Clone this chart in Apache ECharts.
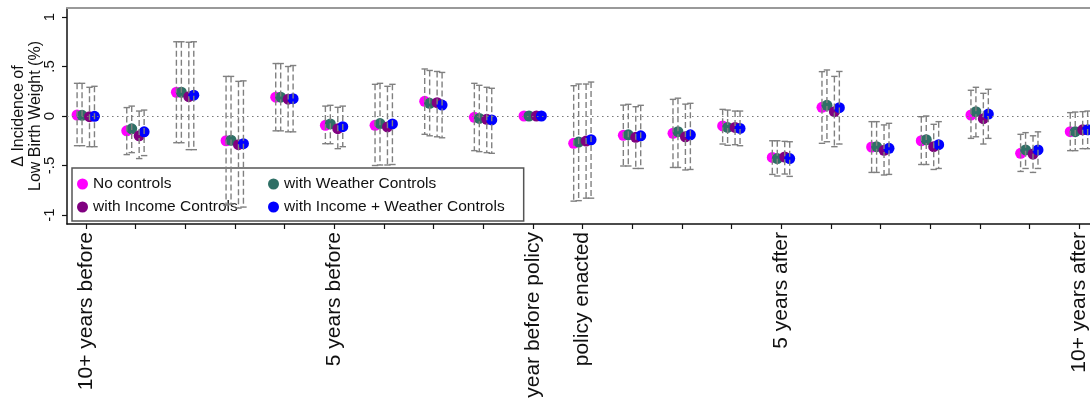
<!DOCTYPE html>
<html>
<head>
  <meta charset="utf-8">
  <title>Low birth weight event study</title>
  <script src="https://cdn.jsdelivr.net/npm/echarts@6/dist/echarts.min.js"></script>
  <style>
    body { margin: 0; background: #fff; }
  </style>
</head>
<body>
<div id="main" style="width: 1090px;height: 409px"></div>
<script type="text/javascript">
  // tick labels (21 event-time bins, only some labelled)
  var tickLabels = ['10+ years before', '', '', '', '', '5 years before', '', '', '', 'year before policy',
    'policy enacted', '', '', '', '5 years after', '', '', '', '', '', '10+ years after'];
  var yTicks = [-1, -0.5, 0, 0.5, 1];
  var modelNames = ['No controls', 'with Weather Controls', 'with Income Controls', 'with Income + Weather Controls'];

  // point estimates
  var estNone = [0.01, -0.15, 0.24, -0.25, 0.19, -0.094, -0.094, 0.148, -0.013, 0, -0.276, -0.195, -0.175, -0.10, -0.418, 0.088, -0.313, -0.25, 0.01, -0.377, -0.158];
  var estWeather = [0.007, -0.13, 0.24, -0.245, 0.19, -0.08, -0.077, 0.128, -0.024, 0, -0.263, -0.19, -0.158, -0.115, -0.43, 0.108, -0.31, -0.24, 0.044, -0.343, -0.158];
  var estIncome = [-0.007, -0.20, 0.195, -0.29, 0.17, -0.128, -0.11, 0.135, -0.034, 0, -0.253, -0.215, -0.21, -0.115, -0.414, 0.044, -0.347, -0.31, -0.027, -0.384, -0.14];
  var estBoth = [-0.003, -0.16, 0.21, -0.28, 0.175, -0.108, -0.08, 0.11, -0.04, 0, -0.24, -0.20, -0.19, -0.125, -0.43, 0.084, -0.327, -0.29, 0.02, -0.343, -0.14];

  // confidence interval bounds (null = reference year, no interval)
  var hiNone = [0.33, 0.085, 0.75, 0.40, 0.53, 0.10, 0.32, 0.475, 0.33, null, 0.306, 0.11, 0.168, 0.067, -0.25, 0.448, -0.057, -0.007, 0.26, -0.185, 0.034];
  var loNone = [-0.30, -0.39, -0.27, -0.90, -0.15, -0.28, -0.50, -0.185, -0.35, null, -0.86, -0.505, -0.52, -0.283, -0.59, -0.276, -0.57, -0.49, -0.226, -0.56, -0.35];
  var hiWeather = [0.33, 0.10, 0.75, 0.40, 0.53, 0.108, 0.33, 0.46, 0.31, null, 0.323, 0.118, 0.18, 0.06, -0.25, 0.465, -0.057, 0.0, 0.29, -0.168, 0.04];
  var loWeather = [-0.30, -0.37, -0.27, -0.89, -0.15, -0.28, -0.495, -0.20, -0.36, null, -0.855, -0.505, -0.52, -0.296, -0.606, -0.26, -0.57, -0.49, -0.21, -0.53, -0.35];
  var hiIncome = [0.29, 0.05, 0.745, 0.35, 0.50, 0.088, 0.30, 0.45, 0.29, null, 0.323, 0.094, 0.12, 0.05, -0.256, 0.40, -0.09, -0.084, 0.229, -0.2, 0.044];
  var loIncome = [-0.31, -0.43, -0.34, -0.93, -0.16, -0.33, -0.495, -0.21, -0.37, null, -0.83, -0.53, -0.545, -0.29, -0.586, -0.31, -0.596, -0.54, -0.283, -0.57, -0.33];
  var hiBoth = [0.30, 0.06, 0.75, 0.355, 0.51, 0.10, 0.32, 0.44, 0.28, null, 0.343, 0.108, 0.128, 0.05, -0.26, 0.45, -0.074, -0.057, 0.27, -0.16, 0.05];
  var loBoth = [-0.31, -0.40, -0.34, -0.92, -0.16, -0.31, -0.49, -0.22, -0.377, null, -0.83, -0.53, -0.54, -0.30, -0.61, -0.283, -0.59, -0.53, -0.226, -0.53, -0.33];

  var ests = [estNone, estWeather, estIncome, estBoth];
  var his = [hiNone, hiWeather, hiIncome, hiBoth];
  var los = [loNone, loWeather, loIncome, loBoth];
  var colors = ['#ff00ff', '#2f7066', '#800080', '#0000ff'];
  var dodge = [-0.18, -0.08, 0.07, 0.17];

  var font = "'Liberation Sans', Arial, Helvetica, sans-serif";
  var myChart = echarts.init(document.getElementById('main'));

  function tickIdx() {
    var a = [];
    for (var i = 0; i < tickLabels.length; i++) a.push(i);
    return a;
  }
  function labelIdx() {
    var a = [];
    for (var i = 0; i < tickLabels.length; i++) if (tickLabels[i]) a.push(i);
    return a;
  }

  function errBar(params, api) {
    var x = api.value(0);
    var top = api.coord([x, api.value(2)]);
    var bot = api.coord([x, api.value(1)]);
    var w = 3.2;
    var st = { stroke: '#808080', lineWidth: 1.4 };
    return {
      type: 'group',
      children: [
        { type: 'line', shape: { x1: top[0], y1: top[1], x2: bot[0], y2: bot[1] },
          style: { stroke: '#808080', lineWidth: 1.4, lineDash: [6, 3] } },
        { type: 'line', shape: { x1: top[0] - w, y1: top[1], x2: top[0] + w, y2: top[1] }, style: st },
        { type: 'line', shape: { x1: bot[0] - w, y1: bot[1], x2: bot[0] + w, y2: bot[1] }, style: st }
      ]
    };
  }

  var series = [];
  for (var k = 0; k < 4; k++) {
    var pts = [], bars = [];
    for (var i = 0; i < ests[k].length; i++) {
      pts.push([i + dodge[k], ests[k][i]]);
      if (his[k][i] !== null) bars.push([i + dodge[k], los[k][i], his[k][i]]);
    }
    var s = {
      name: modelNames[k],
      type: 'scatter',
      data: pts,
      symbol: 'circle',
      symbolSize: 11,
      itemStyle: { color: colors[k], opacity: 1 },
      z: 3
    };
    if (k === 0) {
      s.markLine = {
        silent: true, symbol: 'none', label: { show: false },
        lineStyle: { color: '#7a7a7a', width: 1.2, type: [1.5, 3.5] },
        data: [{ yAxis: 0 }]
      };
    }
    series.push(s);
    series.push({
      type: 'custom',
      renderItem: errBar,
      data: bars,
      encode: { x: 0, y: [1, 2] },
      silent: true,
      z: 4
    });
  }

  var option = {
    animation: false,
    backgroundColor: '#fff',
    textStyle: { fontFamily: font },
    grid: { left: 67, top: 8, width: 1042, height: 216, containLabel: false, outerBoundsMode: 'none' },
    legend: {
      data: modelNames,
      left: 72, top: 168,
      orient: 'horizontal',
      width: 440,
      itemWidth: 11, itemHeight: 11, itemGap: 7,
      padding: [8, 19, 6, 5],
      backgroundColor: '#fff',
      borderColor: '#555', borderWidth: 1.5,
      icon: 'circle',
      textStyle: { fontFamily: font, fontSize: 15.5, color: '#111', width: 168, lineHeight: 14 }
    },
    xAxis: [{
      type: 'value',
      min: -0.383, max: 20.6,
      splitLine: { show: false },
      axisLine: { show: true, onZero: false, lineStyle: { color: '#111', width: 1.5 } },
      axisTick: { show: true, length: 5, customValues: tickIdx(), lineStyle: { color: '#111', width: 1.2 } },
      axisLabel: {
        show: true, rotate: 90, margin: 8, customValues: labelIdx(),
        fontFamily: font, fontSize: 21, color: '#111',
        formatter: function (v) { return tickLabels[Math.round(v)] || ''; }
      }
    }, {
      type: 'value', position: 'top',
      min: -0.383, max: 20.6,
      splitLine: { show: false },
      axisLine: { show: true, onZero: false, lineStyle: { color: '#999', width: 2 } },
      axisTick: { show: false }, axisLabel: { show: false }
    }],
    yAxis: {
      type: 'value',
      min: -1.0909, max: 1.0909,
      splitLine: { show: false },
      axisLine: { show: true, onZero: false, lineStyle: { color: '#111', width: 1.5 } },
      axisTick: { show: true, length: 5, customValues: yTicks, lineStyle: { color: '#111', width: 1.2 } },
      axisLabel: {
        show: true, rotate: 90, margin: 10, customValues: yTicks,
        fontFamily: font, fontSize: 15, color: '#111',
        formatter: function (v) {
          var r = Math.round(v * 10) / 10;
          if (r === 0) return '0';
          return String(r).replace('0.', '.');
        }
      },
      name: '\u0394 Incidence of\nLow Birth Weight (%)',
      nameLocation: 'middle',
      nameRotate: 90,
      nameGap: 23,
      nameMoveOverlap: false,
      nameTextStyle: { fontFamily: font, fontSize: 16, color: '#111', lineHeight: 17 }
    },
    series: series
  };

  myChart.setOption(option);
</script>
</body>
</html>
